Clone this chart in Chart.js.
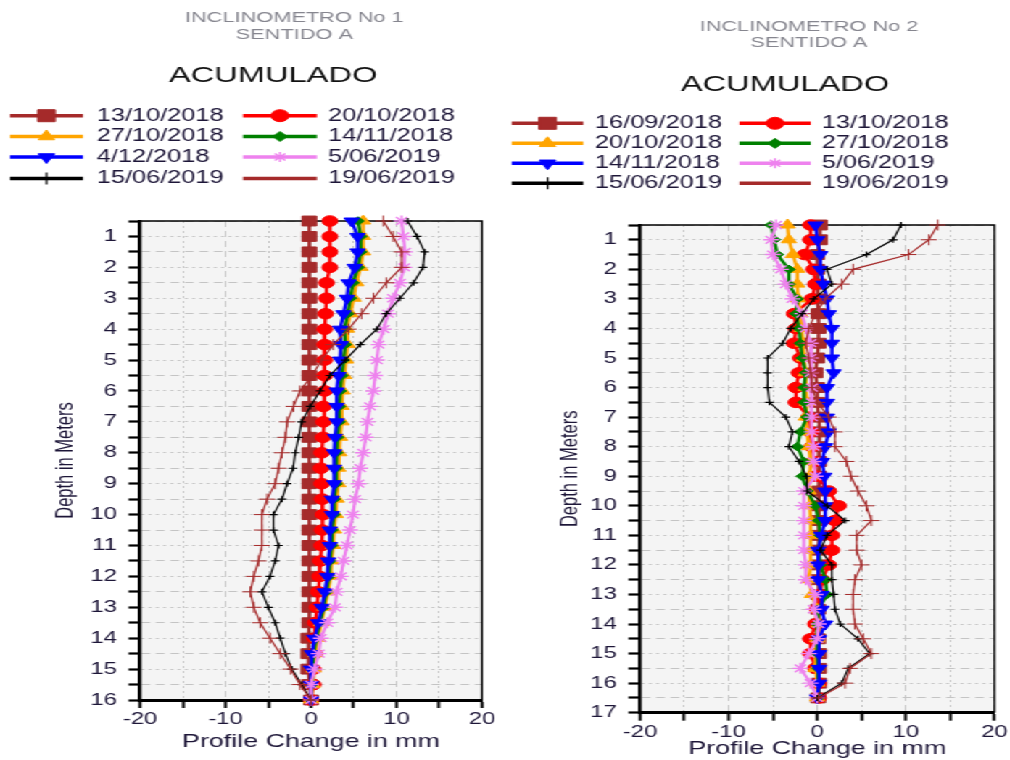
<!DOCTYPE html>
<html>
<head>
<meta charset="utf-8">
<title>Inclinometros - Acumulado</title>
<script src="https://cdn.jsdelivr.net/npm/chart.js@4.4.0/dist/chart.umd.min.js"></script>
<style>
  html, body { margin: 0; padding: 0; background: #fff; overflow: hidden; }
  /* the original picture is stretched sideways, so the charts are drawn narrow and widened */
  #wrap { position: absolute; left: 0; top: 0; width: 697px; height: 760px; transform: scaleX(1.45); transform-origin: 0 0; }
  #wrap canvas { position: absolute; top: 0; }
  #c1 { left: 0; }
  #c2 { left: 348px; }
</style>
</head>
<body>
<div id="wrap">
  <canvas id="c1" width="348" height="760"></canvas>
  <canvas id="c2" width="349" height="760"></canvas>
</div>
<script>
// ---- datos ----
const depthsA = [0.5, 1, 1.5, 2, 2.5, 3, 3.5, 4, 4.5, 5, 5.5, 6, 6.5, 7, 7.5, 8,
  8.5, 9, 9.5, 10, 10.5, 11, 11.5, 12, 12.5, 13, 13.5, 14, 14.5, 15, 15.5, 16];
const depthsB = [0.5, 1, 1.5, 2, 2.5, 3, 3.5, 4, 4.5, 5, 5.5, 6, 6.5, 7, 7.5, 8,
  8.5, 9, 9.5, 10, 10.5, 11, 11.5, 12, 12.5, 13, 13.5, 14, 14.5, 15, 15.5, 16, 16.5];

// Inclinometro 1
const datesA = ["13/10/2018", "20/10/2018", "27/10/2018", "14/11/2018",
  "4/12/2018", "5/06/2019", "15/06/2019", "19/06/2019"];
const a_13oct = [-0.2, -0.2, -0.2, -0.2, -0.2, -0.2, -0.2, -0.2, -0.2, -0.2, -0.2, -0.2, -0.2, -0.2, -0.2, -0.2,
  -0.2, -0.2, -0.2, -0.2, -0.2, -0.2, -0.2, -0.2, -0.2, -0.2, -0.2, -0.3, -0.3, -0.3, -0.2, 0];
const a_20oct = [2.2, 2.2, 2.2, 2.2, 1.8, 1.8, 1.7, 1.6, 1.6, 1.6, 1.6, 1.6, 1.45, 1.45, 1.4, 1.25,
  1.15, 1.25, 1.3, 1.4, 1.3, 1.25, 1.1, 1.0, 0.85, 0.7, 0.5, 0.4, 0.4, 0.25, 0.25, 0];
const a_27oct = [6.1, 6.1, 6.1, 5.8, 5.3, 5.0, 4.6, 4.2, 4.3, 4.1, 3.9, 3.7, 3.6, 3.6, 3.4, 3.3,
  3.2, 3.2, 3.0, 2.9, 2.7, 2.6, 2.4, 2.3, 2.0, 1.6, 1.2, 0.8, 0.5, 0.3, 0.2, 0];
const a_14nov = [5.5, 5.8, 5.8, 5.5, 4.9, 4.6, 4.3, 3.9, 4.0, 3.8, 3.6, 3.4, 3.3, 3.3, 3.1, 3.0,
  2.95, 2.95, 2.7, 2.7, 2.45, 2.4, 2.2, 2.1, 1.8, 1.45, 1.05, 0.6, 0.3, 0.15, 0.1, 0];
const a_4dic = [4.75, 5.45, 5.45, 5.1, 4.4, 4.2, 3.8, 3.4, 3.5, 3.4, 3.2, 3.0, 3.0, 3.0, 2.8, 2.7,
  2.7, 2.7, 2.45, 2.45, 2.2, 2.2, 2.0, 1.9, 1.6, 1.25, 0.85, 0.4, 0.1, 0, 0, 0];
const a_5jun = [10.6, 10.8, 11.0, 10.9, 10.4, 9.6, 9.0, 8.5, 7.9, 7.7, 7.5, 7.3, 6.9, 6.6, 6.4, 6.1,
  5.75, 5.55, 5.15, 4.9, 4.55, 4.2, 3.8, 3.5, 3.0, 2.8, 1.9, 1.15, 0.9, 0.4, 0, 0];
const a_15jun = [11.3, 12.4, 13.3, 13.1, 12.0, 10.4, 8.8, 7.7, 5.75, 4.0, 2.2, 1.05, -0.1, -1.1, -1.45, -1.85,
  -2.1, -2.8, -3.4, -4.4, -4.4, -3.8, -4.2, -4.8, -5.75, -5.0, -4.2, -3.6, -3.0, -2.25, -1.1, 0];
const a_19jun = [8.45, 9.6, 10.6, 10.6, 8.8, 7.3, 5.9, 4.4, 2.6, 1.25, 0.1, -1.3, -2.05, -2.8, -3.0, -3.4,
  -3.8, -4.2, -5.15, -5.75, -5.75, -5.75, -6.15, -6.7, -7.1, -6.7, -5.95, -4.8, -3.6, -2.4, -1.3, 0];

// Inclinometro 2
const datesB = ["16/09/2018", "13/10/2018", "20/10/2018", "27/10/2018",
  "14/11/2018", "5/06/2019", "15/06/2019", "19/06/2019"];
const b_16sep = [0.3, 0.3, 0, 0, 0.15, 0, 0.15, 0.15, 0.15, 0, -0.2, 0, 0, 0.15, 0.3, 0.2,
  0.2, 0.2, 0.2, 0.2, 0.2, 0.2, 0.2, 0.2, 0.1, 0.1, 0.1, 0.1, 0.1, 0.2, 0.2, 0.2, 0.1];
const b_13oct = [-0.75, -0.75, -1.4, -0.4, -0.2, -0.6, -2.6, -2.4, -2.6, -1.9, -2.05, -2.4, -2.4, -0.95, -0.75, -0.6,
  -0.4, -0.1, 1.3, 2.4, 2.0, 1.65, 1.65, 1.3, 0.55, 0.35, 0, -0.2, -0.75, -0.75, -0.2, 0.15, 0.15];
const b_20oct = [-3.35, -3.2, -2.75, -2.25, -2.25, -2.15, -1.9, -1.75, -1.6, -1.5, -1.3, -1.3, -1.15, -1.3, -1.15, -0.95,
  -0.75, -0.85, -0.95, -0.85, -0.75, -0.75, -0.75, -0.75, -0.95, -0.6, 0, 0.15, 0, -0.2, -0.2, 0, 0];
const b_27oct = [-5.2, -4.85, -4.5, -3.2, -3.2, -2.25, -2.4, -2.05, -1.9, -1.7, -1.3, -1.5, -1.5, -1.15, -1.9, -2.25,
  -1.5, -1.7, -1.15, -0.2, 0.15, 0.35, 0.15, 0.35, 0.9, 1.1, 0.15, 0, 0, 0, 0.1, 0.15, 0.1];
const b_14nov = [-0.2, 0, 0.35, 0.35, 0.7, 1.1, 1.3, 1.65, 1.65, 1.65, 1.85, 1.1, 1.1, 1.1, 1.3, 0.9,
  0.55, 0.8, 0.9, 0.9, 0.9, 0.45, 0.1, 0.1, 0.1, 0.5, 0.5, 0.9, 0.2, 0.2, 0.2, 0.2, 0];
const b_5jun = [-4.65, -5.2, -5.0, -4.1, -3.55, -2.8, -1.7, -1.3, -0.75, -0.75, -0.75, -0.6, -0.6, -0.6, -0.6, -0.4,
  -0.4, -0.2, -1.5, -1.5, -1.5, -1.5, -1.5, -1.3, -1.3, -0.2, -0.4, 0.15, 0, -0.95, -1.9, -0.75, 0];
const b_15jun = [9.45, 8.55, 5.55, 1.1, 1.65, -0.4, -1.7, -3.0, -3.9, -5.6, -5.6, -5.6, -5.4, -3.55, -2.8, -3.2,
  -2.05, -1.2, -1.15, 1.1, 3.15, 1.1, 0.35, 1.65, 1.65, 1.85, 2.0, 2.6, 4.6, 5.9, 3.5, 2.75, 0];
const b_19jun = [13.6, 12.6, 10.3, 4.05, 2.75, 0.9, -0.2, -0.95, -1.3, -0.95, -0.75, -0.6, 0, 1.3, 2.0, 2.0,
  3.3, 3.8, 4.6, 5.55, 6.1, 4.45, 4.45, 5.0, 4.25, 4.05, 4.05, 4.25, 5.2, 6.1, 3.7, 3.15, 0.15];

const xTicks = [-20, -10, 0, 10, 20];

// ---- estilos ----
const FONT = '"Liberation Sans", Arial, sans-serif';
const INK = '#1d1638';
const GRID = '#c4c4c4';

Chart.defaults.font.family = FONT;
Chart.defaults.color = INK;

// una entrada por posicion de la leyenda
const STYLES = [
  { color: '#a52a2a', shape: 'rect',     r: 7,   lr: 8.5, lw: 2.4, pbw: 1 },
  { color: '#ff0000', shape: 'circle',   r: 5.3, lr: 6,   lw: 2.4, pbw: 1 },
  { color: '#ffa500', shape: 'triangle', r: 6,   lr: 6.5, lw: 2.4, pbw: 1 },
  { color: '#008000', shape: 'rectRot',  r: 4.3, lr: 5,   lw: 2.4, pbw: 1 },
  { color: '#0000ff', shape: 'triangle', r: 6,   lr: 6.5, lw: 2.4, pbw: 1, rot: 180 },
  { color: '#ee82ee', shape: 'star',     r: 5.5, lr: 5,   lw: 2.2, pbw: 1.4 },
  { color: '#000000', shape: 'cross',    r: 3,   lr: 6,   lw: 1.2, pbw: 1.2 },
  { color: '#a52a2a', shape: 'cross',    r: 5.5, lr: 0,   lw: 1.2, pbw: 1, noLegendMark: true },
];

function series(label, xs, depths, st, i) {
  return {
    label,
    data: xs.map((v, k) => ({ x: v, y: depths[k] })),
    showLine: true,
    tension: 0,
    borderColor: st.color,
    borderWidth: st.lw,
    pointStyle: st.shape,
    pointRadius: st.r,
    pointHoverRadius: st.r,
    pointRotation: st.rot || 0,
    pointBackgroundColor: st.color,
    pointBorderColor: st.color,
    pointBorderWidth: st.pbw,
    legendRadius: st.lr,
    legendMark: !st.noLegendMark,
    clip: false,
    order: -i, // las ultimas fechas encima
  };
}

const isInt = v => Math.abs(v - Math.round(v)) < 1e-6;

function yScale(maxD, width, titlePad) {
  return {
    type: 'linear',
    reverse: true,
    min: 0.5,
    max: maxD,
    afterFit(s) { s.width = width; },
    ticks: {
      stepSize: 0.5,
      autoSkip: false,
      padding: 8,
      color: INK,
      font: { size: 16.5 },
      callback: v => (isInt(v) ? String(Math.round(v)) : ''),
    },
    grid: { color: GRID, lineWidth: 1, tickLength: 8, tickColor: '#000', tickWidth: 2.2 },
    border: {
      color: '#000',
      width: 2.5,
      dash: ctx => (ctx.tick ? (isInt(ctx.tick.value) ? [2, 3] : [6, 4]) : []),
    },
    title: {
      display: true,
      text: 'Depth in Meters',
      color: INK,
      font: { size: 16.5 },
      padding: { top: titlePad, bottom: 0 },
    },
  };
}

function xScale(height, titlePad) {
  return {
    type: 'linear',
    min: xTicks[0],
    max: xTicks[xTicks.length - 1],
    afterFit(s) { s.height = height; },
    ticks: {
      stepSize: 5,
      autoSkip: false,
      maxRotation: 0,
      padding: 2,
      color: INK,
      font: { size: 16.5 },
      callback: v => (xTicks.includes(v) ? String(v) : ''),
    },
    grid: { color: GRID, lineWidth: 1, tickLength: 8, tickColor: '#000', tickWidth: 2 },
    border: {
      color: '#000',
      width: 3,
      dash: ctx => (ctx.tick ? (ctx.tick.value % 10 === 0 ? [6, 4] : [2, 3]) : []),
    },
    title: {
      display: true,
      text: 'Profile Change in mm',
      color: INK,
      font: { size: 18.5 },
      padding: { top: 0, bottom: titlePad },
    },
  };
}

// titulos, leyenda de dos columnas, fondo y marco
const panelPlugin = {
  id: 'panel',
  beforeDraw(chart, args, o) {
    const ctx = chart.ctx, a = chart.chartArea;
    ctx.save();
    ctx.fillStyle = '#f4f4f4';
    ctx.fillRect(a.left, a.top, a.right - a.left, a.bottom - a.top);

    ctx.textAlign = 'center';
    ctx.textBaseline = 'middle';
    ctx.fillStyle = '#86868f';
    ctx.font = '15px ' + FONT;
    ctx.fillText(o.title[0], o.titleX, o.titleY[0]);
    ctx.fillText(o.title[1], o.titleX, o.titleY[1]);
    ctx.fillStyle = '#111111';
    ctx.font = '22.5px ' + FONT;
    ctx.fillText(o.subtitle, o.subX, o.subY);

    ctx.textAlign = 'left';
    ctx.font = '17.5px ' + FONT;
    chart.data.datasets.forEach((ds, i) => {
      const col = o.cols[i % 2];
      const y = o.rows[Math.floor(i / 2)];
      ctx.strokeStyle = ds.borderColor;
      ctx.lineWidth = 3.5;
      ctx.beginPath();
      ctx.moveTo(col[0], y);
      ctx.lineTo(col[1], y);
      ctx.stroke();
      if (ds.legendMark) {
        ctx.fillStyle = ds.pointBackgroundColor;
        ctx.strokeStyle = ds.pointBorderColor;
        ctx.lineWidth = ds.pointBorderWidth;
        Chart.helpers.drawPoint(ctx, {
          pointStyle: ds.pointStyle,
          rotation: ds.pointRotation,
          radius: ds.legendRadius,
          borderWidth: ds.pointBorderWidth,
        }, (col[0] + col[1]) / 2, y);
      }
      ctx.fillStyle = INK;
      ctx.fillText(ds.label, col[2], y);
    });
    ctx.restore();
  },
  beforeDatasetsDraw(chart) {
    const ctx = chart.ctx, a = chart.chartArea;
    ctx.save();
    ctx.strokeStyle = '#000';
    ctx.lineWidth = 1.3;
    ctx.beginPath();
    ctx.moveTo(a.left, a.top);
    ctx.lineTo(a.right, a.top);
    ctx.lineTo(a.right, a.bottom);
    ctx.stroke();
    ctx.restore();
  },
};

function makeChart(id, labels, cols, depths, maxD, lay, panel) {
  return new Chart(document.getElementById(id), {
    type: 'scatter',
    data: { datasets: cols.map((xs, i) => series(labels[i], xs, depths, STYLES[i], i)) },
    options: {
      responsive: false,
      animation: false,
      events: [],
      layout: { padding: { top: lay.top, right: lay.right, bottom: 0, left: 0 } },
      scales: {
        x: xScale(lay.xH, lay.xTitlePad),
        y: yScale(maxD, lay.yW, lay.yTitlePad),
      },
      plugins: {
        legend: { display: false },
        tooltip: { enabled: false },
        panel,
      },
    },
    plugins: [panelPlugin],
  });
}

makeChart('c1', datesA,
  [a_13oct, a_20oct, a_27oct, a_14nov, a_4dic, a_5jun, a_15jun, a_19jun],
  depthsA, 16,
  { top: 221, right: 15.6, yW: 96.6, yTitlePad: 35.5, xH: 60, xTitlePad: 7 },
  {
    title: ['INCLINOMETRO No 1', 'SENTIDO A'], titleX: 203, titleY: [18.3, 34.7],
    subtitle: 'ACUMULADO', subX: 188.3, subY: 75.7,
    rows: [115.7, 136.5, 157, 178.5],
    cols: [[6.9, 57.2, 66.7], [167.6, 218.6, 226.2]],
  });

makeChart('c2', datesB,
  [b_16sep, b_13oct, b_20oct, b_27oct, b_14nov, b_5jun, b_15jun, b_19jun],
  depthsB, 17,
  { top: 225, right: 8.7, yW: 93.4, yTitlePad: 35.2, xH: 47.3, xTitlePad: 0 },
  {
    title: ['INCLINOMETRO No 2', 'SENTIDO A'], titleX: 209.9, titleY: [27, 42.5],
    subtitle: 'ACUMULADO', subX: 193.4, subY: 84.5,
    rows: [123.3, 143.3, 163.3, 183.3],
    cols: [[4.9, 54.3, 62.3], [161.9, 211.1, 218.7]],
  });
</script>
</body>
</html>
